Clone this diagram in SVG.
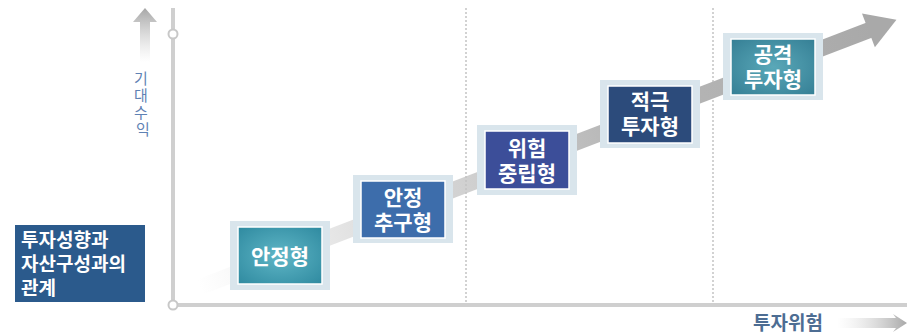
<svg xmlns="http://www.w3.org/2000/svg" width="907" height="335" viewBox="0 0 907 335">
<defs>
<linearGradient id="bigArrow" x1="0" y1="0" x2="1" y2="0">
<stop offset="0" stop-color="#cfcfcf" stop-opacity="0"/>
<stop offset="0.25" stop-color="#c9c9c9" stop-opacity="0.6"/>
<stop offset="0.6" stop-color="#b9b9b9"/>
<stop offset="1" stop-color="#a9a9a9"/>
</linearGradient>
<linearGradient id="upArrow" x1="0" y1="1" x2="0" y2="0">
<stop offset="0" stop-color="#cccccc" stop-opacity="0"/>
<stop offset="1" stop-color="#a6a6a6"/>
</linearGradient>
<linearGradient id="rightArrow" x1="0" y1="0" x2="1" y2="0">
<stop offset="0" stop-color="#dddddd" stop-opacity="0"/>
<stop offset="1" stop-color="#a8a8a8"/>
</linearGradient>
<radialGradient id="teal1" cx="0.5" cy="0.5" r="0.7">
<stop offset="0" stop-color="#5fb6c6"/>
<stop offset="1" stop-color="#2f8aa0"/>
</radialGradient>
<radialGradient id="teal2" cx="0.5" cy="0.5" r="0.7">
<stop offset="0" stop-color="#5aa8b8"/>
<stop offset="1" stop-color="#357f95"/>
</radialGradient>
<style>
text{font-family:"Liberation Sans","Noto Sans CJK KR",sans-serif}
.frame{fill:#d9e5ec}
.inner{stroke:#ffffff;stroke-width:1.5}
.lbl{font-size:21px;font-weight:bold;fill:#ffffff;text-anchor:middle}
.axis{stroke:#cfcfcf;stroke-width:4;fill:none}
.dot{stroke:#c4c4c4;stroke-width:1.5;stroke-dasharray:2 2;fill:none}
.knob{fill:#ffffff;stroke:#c8c8c8;stroke-width:2}
</style>
</defs>
<rect width="907" height="335" fill="#ffffff"/>

<g id="axes">
<line class="dot" x1="466" y1="8" x2="466" y2="304"/>
<line class="dot" x1="713" y1="8" x2="713" y2="304"/>
<line class="axis" x1="173" y1="8" x2="173" y2="305"/>
<line class="axis" x1="173" y1="305" x2="907" y2="305"/>
<circle class="knob" cx="173" cy="34" r="4.5"/>
<circle class="knob" cx="173" cy="305" r="4.5"/>
<polygon points="140,22 140,62 150,62 150,22 157,22 145,8 133,22" fill="url(#upArrow)"/>
<text font-size="15" fill="#5f82b4" text-anchor="middle">
<tspan x="143" y="84">기</tspan>
<tspan x="143" y="101">대</tspan>
<tspan x="143" y="118">수</tspan>
<tspan x="143" y="135">익</tspan>
</text>
<text x="788" y="330" font-size="19" font-weight="bold" fill="#4d6d93" text-anchor="middle">투자위험</text>
<polygon points="837,318 896,318 893,314 907,323 893,332 896,328 837,328" fill="url(#rightArrow)"/>
</g>

<g id="connectors">
<g transform="translate(200,287) rotate(-21)">
<rect x="0" y="-8" width="720" height="16" fill="url(#bigArrow)"/>
<polygon points="716,-18 746,0 716,18" fill="#a9a9a9"/>
</g>
</g>

<g id="title">
<rect x="15" y="225" width="130" height="77" fill="#2b5a8c"/>
<text font-size="19" font-weight="bold" fill="#ffffff">
<tspan x="21" y="247">투자성향과</tspan>
<tspan x="21" y="271">자산구성과의</tspan>
<tspan x="21" y="295">관계</tspan>
</text>
</g>

<g id="n1">
<rect class="frame" x="230" y="221" width="100" height="69"/>
<rect class="inner" x="238" y="227" width="84" height="57" fill="url(#teal1)"/>
<text class="lbl" x="280" y="264">안정형</text>
</g>

<g id="n2">
<rect class="frame" x="353" y="175" width="100" height="68"/>
<rect class="inner" x="361" y="181" width="84" height="57" fill="#3d6dab"/>
<text class="lbl"><tspan x="403" y="205">안정</tspan><tspan x="403" y="230">추구형</tspan></text>
</g>

<g id="n3">
<rect class="frame" x="477" y="125" width="100" height="70"/>
<rect class="inner" x="485" y="131" width="84" height="58" fill="#3c4e99"/>
<text class="lbl"><tspan x="527" y="156">위험</tspan><tspan x="527" y="181">중립형</tspan></text>
</g>

<g id="n4">
<rect class="frame" x="600" y="80" width="100" height="68"/>
<rect class="inner" x="608" y="86" width="84" height="57" fill="#2c4b7b"/>
<text class="lbl"><tspan x="650" y="109">적극</tspan><tspan x="650" y="134">투자형</tspan></text>
</g>

<g id="n5">
<rect class="frame" x="723" y="33" width="100" height="67"/>
<rect class="inner" x="731" y="39" width="84" height="56" fill="url(#teal2)"/>
<text class="lbl"><tspan x="773" y="62">공격</tspan><tspan x="773" y="87">투자형</tspan></text>
</g>
</svg>
